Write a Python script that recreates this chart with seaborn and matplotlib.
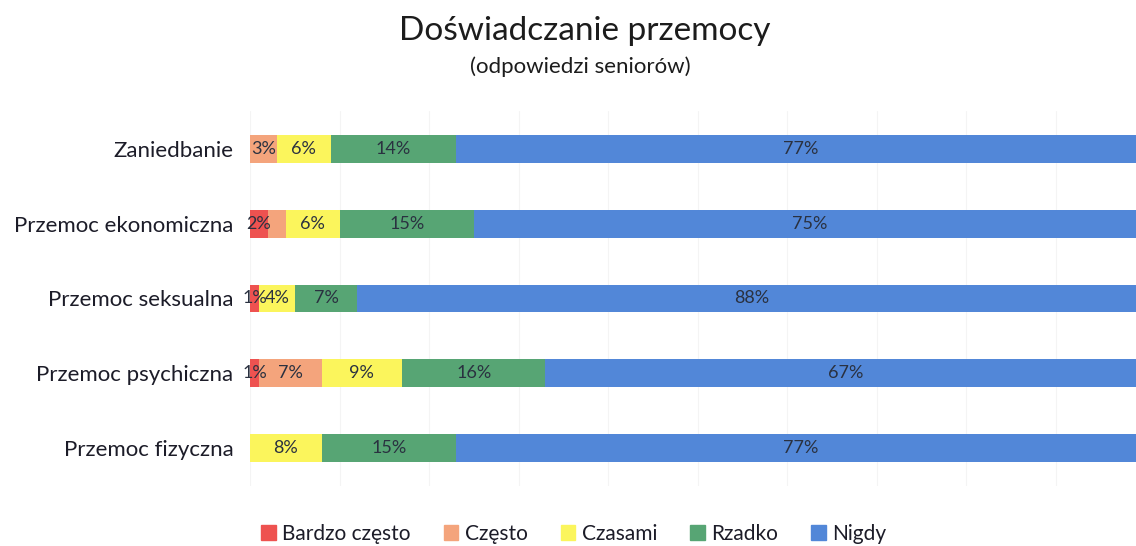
import numpy as np
import pandas as pd
import matplotlib
matplotlib.use("Agg")
import matplotlib.pyplot as plt
import seaborn as sns

# dane z wykresu (odpowiedzi seniorów, %)
kategorie = ["Zaniedbanie", "Przemoc ekonomiczna", "Przemoc seksualna",
             "Przemoc psychiczna", "Przemoc fizyczna"]
serie = ["Bardzo często", "Często", "Czasami", "Rzadko", "Nigdy"]
bardzo_czesto = [0, 2, 1, 1, 0]
czesto = [3, 2, 0, 7, 0]
czasami = [6, 6, 4, 9, 8]
rzadko = [14, 15, 7, 16, 15]
nigdy = [77, 75, 88, 67, 77]

kolory = ["#ee5250", "#f4a47c", "#fbf55c", "#57a574", "#5287d8"]
# etykiety niewidoczne na oryginale
ukryte = {(1, 1)}

sns.set_theme(style="white")
plt.rcParams["font.family"] = ["Lato", "DejaVu Sans"]

wartosci = np.array([bardzo_czesto, czesto, czasami, rzadko, nigdy], dtype=float)
skumulowane = np.cumsum(wartosci, axis=0)

fig = plt.figure(figsize=(11.36, 5.46), dpi=100)
ax = fig.add_axes([0.2201, 0.1108, 0.788, 0.685])

# rysujemy od najdłuższego słupka, kolejne nakładają się na poprzednie
for i in reversed(range(len(serie))):
    df = pd.DataFrame({"kategoria": kategorie, "wartosc": skumulowane[i]})
    sns.barplot(data=df, x="wartosc", y="kategoria", orient="h", color=kolory[i],
                saturation=1, width=0.37, linewidth=0, ax=ax, label=serie[i])

# etykiety procentowe
for i in range(len(serie)):
    for j in range(len(kategorie)):
        v = wartosci[i, j]
        if v <= 0 or (j, i) in ukryte:
            continue
        srodek = skumulowane[i, j] - v / 2
        ax.text(srodek, j, f"{int(v)}%", ha="center", va="center",
                fontsize=13, color="#2a3140")

ax.set_xlim(0, 100)
ax.set_ylim(len(kategorie) - 0.5, -0.5)
ax.set_xticks(np.arange(0, 101, 10))
ax.xaxis.grid(True, color="#f4f4f4", linewidth=0.8)
ax.set_axisbelow(True)
ax.tick_params(axis="x", bottom=False, labelbottom=False)
ax.tick_params(axis="y", left=False, labelsize=16, labelcolor="#1c1c28", pad=6)
ax.set_xlabel("")
ax.set_ylabel("")
for s in ax.spines.values():
    s.set_visible(False)
if ax.get_legend() is not None:
    ax.get_legend().remove()

fig.text(0.515, 0.943, "Doświadczanie przemocy", ha="center", va="center",
         fontsize=24, color="#1c1c1c")
fig.text(0.511, 0.877, "(odpowiedzi seniorów)", ha="center", va="center",
         fontsize=16, color="#1c1c1c")

uchwyty = [plt.Rectangle((0, 0), 1, 1, color=k) for k in kolory]
fig.legend(uchwyty, serie, loc="center", bbox_to_anchor=(0.505, 0.022), ncol=5,
           frameon=False, fontsize=15, handlelength=0.7, handleheight=0.7,
           handletextpad=0.3, columnspacing=1.6, labelcolor="#1c1c28")

fig.savefig("out.png", dpi=100)
